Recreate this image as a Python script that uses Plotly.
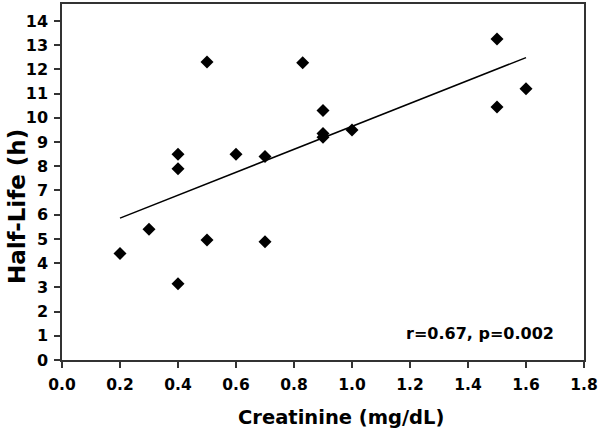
import numpy as np
import plotly.graph_objects as go

creatinine = [0.2, 0.3, 0.4, 0.4, 0.4, 0.5, 0.5, 0.6, 0.7, 0.7, 0.83, 0.9, 0.9, 0.9, 1.0, 1.5, 1.5, 1.6]
half_life = [4.4, 5.4, 3.15, 7.9, 8.5, 4.95, 12.3, 8.5, 8.4, 4.88, 12.27, 10.3, 9.35, 9.2, 9.5, 13.25, 10.45, 11.2]
x_ticks = [0.0, 0.2, 0.4, 0.6, 0.8, 1.0, 1.2, 1.4, 1.6, 1.8]
y_ticks = list(range(0, 15))
x_title = "Creatinine (mg/dL)"
y_title = "Half-Life (h)"
annotation_text = "r=0.67, p=0.002"

slope, intercept = np.polyfit(creatinine, half_life, 1)
fit_x = [min(creatinine), max(creatinine)]
fit_y = [intercept + slope * v for v in fit_x]

font = "DejaVu Sans, sans-serif"
axis_col = "#333333"
W, H = 600, 431
L, R, T, B = 62, 13, 2, 71
pw, ph = W - L - R, H - T - B


def px_x(px):
    return (px - L) / pw


def px_y(py):
    return (H - B - py) / ph


fig = go.Figure()
fig.add_trace(go.Scatter(x=fit_x, y=fit_y, mode="lines",
                         line=dict(color="black", width=1.5), hoverinfo="skip"))
fig.add_trace(go.Scatter(x=creatinine, y=half_life, mode="markers",
                         marker=dict(symbol="diamond", size=10, color="black")))

fig.update_layout(
    width=W, height=H,
    margin=dict(l=L, r=R, t=T, b=B),
    plot_bgcolor="white", paper_bgcolor="white",
    showlegend=False,
    font=dict(family=font, size=16, color="black"),
    xaxis=dict(range=[0, 1.8], tickvals=x_ticks, ticktext=[f"<b>{v:.1f}</b>" for v in x_ticks],
               ticks="outside", ticklen=6, tickwidth=1.5, tickcolor=axis_col,
               showline=True, linecolor=axis_col, linewidth=1.5, mirror=True,
               showgrid=False, zeroline=False, ticklabeloverflow="allow", ticklabelstandoff=4,
               tickfont=dict(family=font, size=15.5, color="black")),
    yaxis=dict(range=[0, 14.70], tickvals=y_ticks, ticktext=[f"<b>{v}</b>" for v in y_ticks],
               ticks="outside", ticklen=6, tickwidth=1.5, tickcolor=axis_col,
               showline=True, linecolor=axis_col, linewidth=1.5, mirror=True,
               showgrid=False, zeroline=False, ticklabelstandoff=3,
               tickfont=dict(family=font, size=16, color="black")),
    annotations=[
        dict(text=f"<b>{annotation_text}</b>",
             x=px_x(559), y=px_y(333), xref="paper", yref="paper",
             xanchor="right", yanchor="middle",
             showarrow=False, font=dict(size=16, family=font, color="black")),
        dict(text=f"<b>{x_title}</b>",
             x=px_x(343), y=px_y(418), xref="paper", yref="paper",
             xanchor="center", yanchor="middle",
             showarrow=False, font=dict(size=19.5, family=font, color="black")),
        dict(text=f"<b>{y_title}</b>", textangle=-90,
             x=px_x(17), y=px_y(206), xref="paper", yref="paper",
             xanchor="center", yanchor="middle",
             showarrow=False, font=dict(size=23, family=font, color="black")),
    ],
)

fig.write_html("out.html", config={"displayModeBar": False},
               post_script="document.body.style.margin='0';")
